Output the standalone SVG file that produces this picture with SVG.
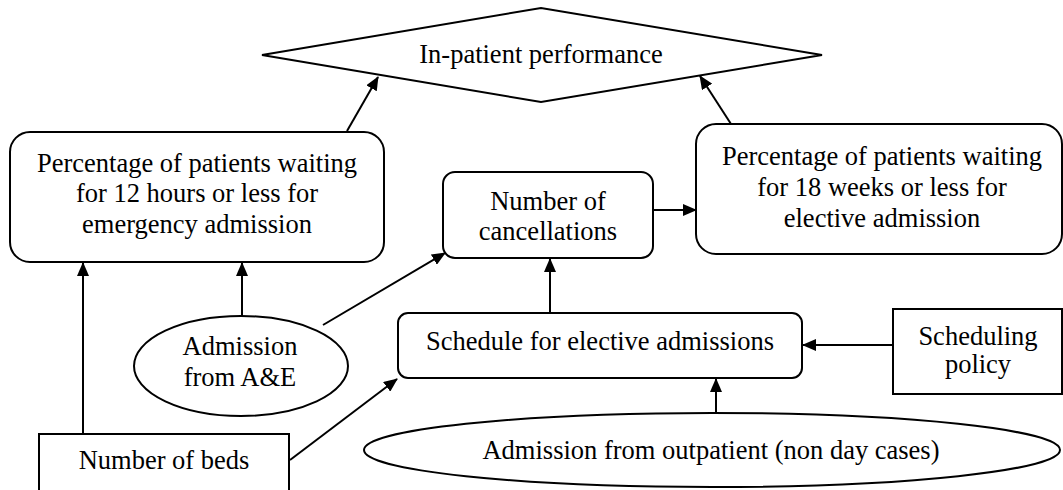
<svg xmlns="http://www.w3.org/2000/svg" width="1063" height="490" viewBox="0 0 1063 490" font-family="'Liberation Serif', 'DejaVu Serif', serif">
  <style>
    .shape { fill: #ffffff; stroke: #000000; stroke-width: 2; }
    .lbl { font-family: 'Liberation Serif', 'DejaVu Serif', serif; font-size: 26.5px; fill: #000000; text-anchor: middle; }
    .conn { stroke: #000000; stroke-width: 2; fill: none; marker-end: url(#arrow); }
  </style>
  <defs>
    <!-- filled triangular arrowhead shared by all connectors -->
    <marker id="arrow" viewBox="0 0 14 12" refX="13" refY="6" markerWidth="14" markerHeight="12" markerUnits="userSpaceOnUse" orient="auto">
      <path d="M0,0 L14,6 L0,12 Z" fill="#000000"/>
    </marker>
  </defs>
  <rect width="1063" height="490" fill="#ffffff"/>

  <g id="connectors">
    <line class="conn" x1="347" y1="131" x2="378" y2="77"/>
    <line class="conn" x1="731" y1="124" x2="700" y2="76"/>
    <line class="conn" x1="83" y1="434" x2="83" y2="263"/>
    <line class="conn" x1="242" y1="316" x2="242" y2="263"/>
    <line class="conn" x1="323" y1="325" x2="445" y2="253"/>
    <line class="conn" x1="290" y1="460" x2="397" y2="379"/>
    <line class="conn" x1="550" y1="313" x2="550" y2="259"/>
    <line class="conn" x1="653" y1="210" x2="696" y2="210"/>
    <line class="conn" x1="893" y1="345" x2="803" y2="345"/>
    <line class="conn" x1="716" y1="413" x2="716" y2="379"/>
  </g>

  <g id="inpatient-performance">
    <polygon class="shape" points="262,55 541,8 822,55 541,102"/>
    <text class="lbl" x="541" y="63">In-patient performance</text>
  </g>

  <g id="emergency-waiting">
    <rect class="shape" x="10" y="132" width="374" height="130" rx="20" ry="20"/>
    <text class="lbl" x="197" y="172">Percentage of patients waiting</text>
    <text class="lbl" x="197" y="202">for 12 hours or less for</text>
    <text class="lbl" x="197" y="233">emergency admission</text>
  </g>

  <g id="elective-waiting">
    <rect class="shape" x="696" y="124" width="366" height="130" rx="20" ry="20"/>
    <text class="lbl" x="882" y="165">Percentage of patients waiting</text>
    <text class="lbl" x="882" y="196">for 18 weeks or less for</text>
    <text class="lbl" x="882" y="227">elective admission</text>
  </g>

  <g id="cancellations">
    <rect class="shape" x="443" y="172" width="210" height="86" rx="12" ry="12"/>
    <text class="lbl" x="548" y="210">Number of</text>
    <text class="lbl" x="548" y="240">cancellations</text>
  </g>

  <g id="admission-ae">
    <ellipse class="shape" cx="241" cy="366" rx="107" ry="50"/>
    <text class="lbl" x="240" y="355">Admission</text>
    <text class="lbl" x="240" y="386">from A&amp;E</text>
  </g>

  <g id="elective-schedule">
    <rect class="shape" x="398" y="313" width="404" height="65" rx="10" ry="10"/>
    <text class="lbl" x="600" y="350">Schedule for elective admissions</text>
  </g>

  <g id="scheduling-policy">
    <rect class="shape" x="893" y="309" width="169" height="85"/>
    <text class="lbl" x="978" y="345">Scheduling</text>
    <text class="lbl" x="978" y="373">policy</text>
  </g>

  <g id="number-of-beds">
    <rect class="shape" x="39" y="434" width="250" height="70"/>
    <text class="lbl" x="164" y="469">Number of beds</text>
  </g>

  <g id="admission-outpatient">
    <ellipse class="shape" cx="712" cy="450" rx="348" ry="37"/>
    <text class="lbl" x="711" y="459">Admission from outpatient (non day cases)</text>
  </g>
</svg>
